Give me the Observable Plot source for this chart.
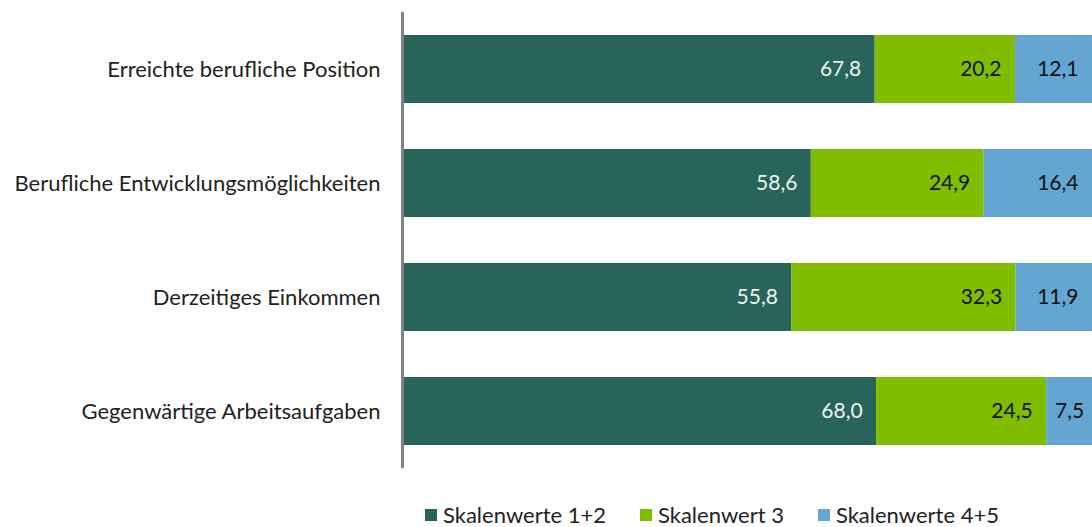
<!DOCTYPE html>
<html>
<head>
<meta charset="utf-8">
<script src="https://cdn.jsdelivr.net/npm/d3@7"></script>
<script src="https://cdn.jsdelivr.net/npm/@observablehq/plot@0.6"></script>
<style>
  body { margin: 0; background: #fff; font-family: Lato, "Open Sans", sans-serif; }
  #wrap { position: relative; width: 1092px; height: 527px; overflow: hidden; }
  #legend { position: absolute; left: 425px; top: 501px; display: flex; font-size: 22px; color: #222; }
  .item { display: flex; align-items: center; margin-right: 34px; }
  .sw { width: 12px; height: 12px; margin-right: 6px; }
</style>
</head>
<body>
<div id="wrap"><div id="chart"></div><div id="legend"></div></div>
<script>
const categories = [
  "Erreichte berufliche Position",
  "Berufliche Entwicklungsmöglichkeiten",
  "Derzeitiges Einkommen",
  "Gegenwärtige Arbeitsaufgaben"
];
const seriesNames = ["Skalenwerte 1+2", "Skalenwert 3", "Skalenwerte 4+5"];
const values12 = [67.8, 58.6, 55.8, 68.0];
const values3  = [20.2, 24.9, 32.3, 24.5];
const values45 = [12.1, 16.4, 11.9, 7.5];
const colors = ["#28645A", "#80BC00", "#64A5D2"];
const labelColors = ["#eef2f0", "#111", "#111"];

const xMax = 99.1;
const seriesValues = [values12, values3, values45];
const rows = [];
categories.forEach((c, i) => {
  let acc = 0;
  seriesValues.forEach((vals, s) => {
    const v = vals[i];
    const x1 = acc, x2 = acc + v;
    acc = x2;
    const visEnd = Math.min(x2, xMax);
    const narrow = (visEnd - x1) < 8;
    rows.push({
      cat: c, series: seriesNames[s], s, value: v, x1, x2,
      lx: narrow ? (x1 + visEnd) / 2 : visEnd,
      anchor: narrow ? "middle" : "end",
      label: v.toFixed(1).replace(".", ",")
    });
  });
});

const fmtLabel = d => d.label;
const chart = Plot.plot({
  width: 1092,
  height: 495,
  marginLeft: 404,
  marginRight: 0,
  marginTop: 12,
  marginBottom: 27,
  style: { fontFamily: "Lato, 'Open Sans', sans-serif", fontSize: "22px", color: "#222", background: "#fff" },
  x: { domain: [0, xMax], axis: null },
  y: { domain: categories, paddingInner: 0.4, paddingOuter: 0.2, label: null, tickSize: 0, tickPadding: 24 },
  color: { domain: seriesNames, range: colors },
  marks: [
    Plot.barX(rows, { x1: "x1", x2: "x2", y: "cat", fill: "series", clip: true }),
    Plot.text(rows.filter(d => d.anchor === "end"), {
      x: "lx", y: "cat", text: fmtLabel, textAnchor: "end", dx: -14,
      fill: d => labelColors[d.s], fontSize: 21
    }),
    Plot.text(rows.filter(d => d.anchor === "middle"), {
      x: "lx", y: "cat", text: fmtLabel, textAnchor: "middle",
      fill: d => labelColors[d.s], fontSize: 21
    }),
    Plot.ruleX([0], { stroke: "#828282", strokeWidth: 3, dx: -2 })
  ]
});
document.getElementById("chart").appendChild(chart);

const legend = document.getElementById("legend");
seriesNames.forEach((n, i) => {
  const it = document.createElement("div");
  it.className = "item";
  const sw = document.createElement("span");
  sw.className = "sw";
  sw.style.background = colors[i];
  const t = document.createElement("span");
  t.textContent = n;
  it.appendChild(sw); it.appendChild(t);
  legend.appendChild(it);
});
</script>
</body>
</html>
